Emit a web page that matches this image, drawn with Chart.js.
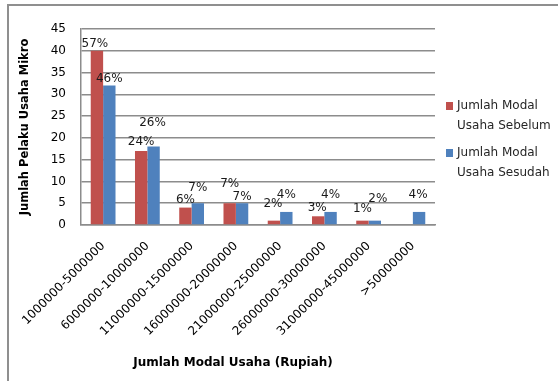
<!DOCTYPE html>
<html>
<head>
<meta charset="utf-8">
<script src="https://cdn.jsdelivr.net/npm/chart.js@4.4.1/dist/chart.umd.min.js"></script>
<style>
  html, body { margin: 0; padding: 0; background: #fff; }
  #wrap { position: relative; width: 558px; height: 381px; overflow: hidden; }
  #frame { position: absolute; left: 7px; top: 4px; width: 620px; height: 420px; border: 2px solid #8f8f8f; box-sizing: border-box; }
  canvas { position: absolute; left: 0; top: 0; }
</style>
</head>
<body>
<div id="wrap">
  <div id="frame"></div>
  <canvas id="modalChart" width="558" height="381"></canvas>
</div>
<script>
const categories = ['1000000-5000000', '6000000-10000000', '11000000-15000000', '16000000-20000000',
    '21000000-25000000', '26000000-30000000', '31000000-45000000', '>50000000'];
const sebelum = [40, 17, 4, 5, 1, 2, 1, 0];
const sesudah = [32, 18, 5, 5, 3, 3, 1, 3];
const pctSebelum = ['57%', '24%', '6%', '7%', '2%', '3%', '1%', ''];
const pctSesudah = ['46%', '26%', '7%', '7%', '4%', '4%', '2%', '4%'];
const yMax = 45;
const yStep = 5;

const FONT = "'DejaVu Sans', sans-serif";

// percent labels above the bars (lift = px of label centre above bar top, as placed in the original)
const barLabels = {
    id: 'barLabels',
    afterDatasetsDraw(chart, args, opts) {
        const ctx = chart.ctx;
        ctx.save();
        ctx.font = '12px ' + FONT;
        ctx.fillStyle = '#1a1a1a';
        ctx.textAlign = 'center';
        ctx.textBaseline = 'middle';
        [pctSebelum, pctSesudah].forEach((texts, di) => {
            chart.getDatasetMeta(di).data.forEach((bar, i) => {
                if (!texts[i]) return;
                const lift = opts.lift[di][i];
                const dx = opts.dx[di][i];
                ctx.fillText(texts[i], bar.x + dx, bar.y - lift);
            });
        });
        ctx.restore();
    }
};

// two-line legend on the right, and the x axis title
const sideLegend = {
    id: 'sideLegend',
    afterDraw(chart) {
        const ctx = chart.ctx;
        const area = chart.chartArea;
        ctx.save();
        ctx.font = '12px ' + FONT;
        ctx.textBaseline = 'middle';
        ctx.textAlign = 'left';
        const x = area.right + 11;
        let y = 106;
        chart.data.datasets.forEach(ds => {
            ctx.fillStyle = ds.backgroundColor;
            ctx.fillRect(x, y - 4, 7, 8);
            ctx.fillStyle = '#262626';
            ds.legendLines.forEach((line, k) => {
                ctx.fillText(line, x + 11, y + k * 20);
            });
            y += 47;
        });

        ctx.font = 'bold 12px ' + FONT;
        ctx.textAlign = 'center';
        ctx.fillStyle = '#000';
        ctx.fillText('Jumlah Modal Usaha (Rupiah)', (area.left + area.right) / 2 - 25, 363);
        ctx.restore();
    }
};

new Chart(document.getElementById('modalChart'), {
    type: 'bar',
    data: {
        labels: categories,
        datasets: [{
            label: 'Jumlah Modal Usaha Sebelum',
            legendLines: ['Jumlah Modal', 'Usaha Sebelum'],
            data: sebelum,
            backgroundColor: '#C0504D',
            categoryPercentage: 0.56,
            barPercentage: 1.0
        }, {
            label: 'Jumlah Modal Usaha Sesudah',
            legendLines: ['Jumlah Modal', 'Usaha Sesudah'],
            data: sesudah,
            backgroundColor: '#4F81BD',
            categoryPercentage: 0.56,
            barPercentage: 1.0
        }]
    },
    options: {
        responsive: false,
        animation: false,
        layout: { padding: { top: 29, right: 123, left: 0, bottom: 0 } },
        plugins: {
            legend: { display: false },
            tooltip: { enabled: false },
            barLabels: {
                lift: [[7, 9, 8, 19, 17, 8, 12, 0], [7, 24, 15, 6, 17, 17, 22, 17]],
                dx: [[-2, 0, 0, 0, -1, -1, 0, 0], [0, -1, 0, 0, 0, 0, 3, -1]]
            }
        },
        scales: {
            x: {
                grid: { display: false, drawTicks: false },
                border: { color: '#8c8c8c', width: 1.5 },
                ticks: {
                    color: '#000',
                    font: { family: FONT, size: 12 },
                    maxRotation: 45,
                    minRotation: 45,
                    padding: 14,
                    autoSkip: false
                },
                afterFit(scale) { scale.height = 156; }
            },
            y: {
                min: 0,
                max: yMax,
                ticks: {
                    stepSize: yStep,
                    color: '#000',
                    font: { family: FONT, size: 12 },
                    padding: 15
                },
                grid: { color: '#8c8c8c', lineWidth: 1.5, drawTicks: false },
                border: { color: '#8c8c8c', width: 1.5 },
                title: {
                    display: true,
                    text: 'Jumlah Pelaku Usaha Mikro',
                    color: '#000',
                    font: { family: FONT, size: 11.5, weight: 'bold' },
                    padding: { top: 18, bottom: 0 }
                },
                afterFit(scale) { scale.width = 81; }
            }
        }
    },
    plugins: [barLabels, sideLegend]
});
</script>
</body>
</html>
